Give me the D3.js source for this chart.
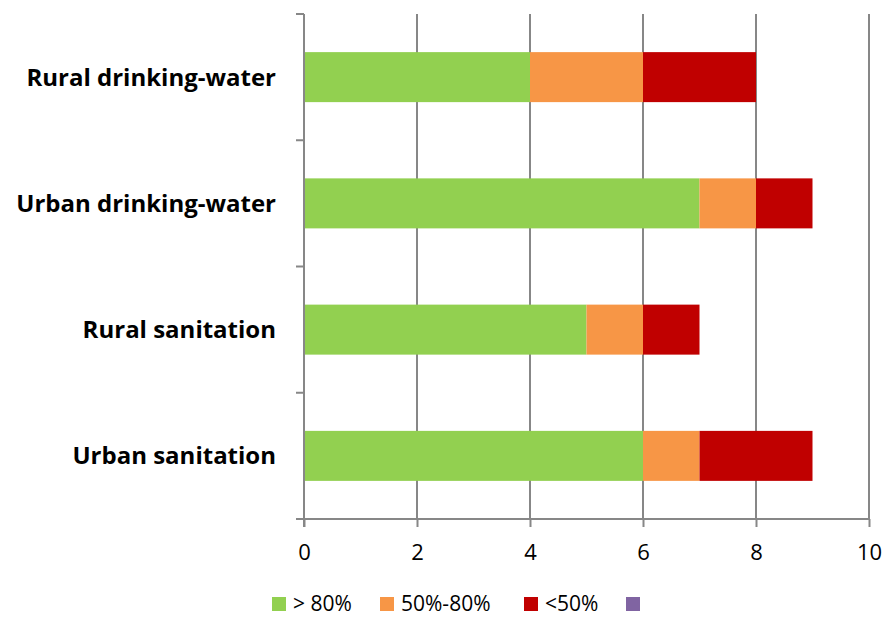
<!DOCTYPE html>
<html>
<head>
<meta charset="utf-8">
<script src="https://cdn.jsdelivr.net/npm/d3@7"></script>
<style>
  html, body { margin: 0; padding: 0; background: #fff; }
  svg { display: block; }
</style>
</head>
<body>
<svg id="chart" width="885" height="617"></svg>
<script>
// Categories from top to bottom
const categories = ["Rural drinking-water", "Urban drinking-water", "Rural sanitation", "Urban sanitation"];
// Stacked series (number of countries per coverage band)
const seriesNames = ["> 80%", "50%-80%", "<50%", ""];
const above80 = [4, 7, 5, 6];
const from50to80 = [2, 1, 1, 1];
const below50 = [2, 1, 1, 2];
const unnamed = [0, 0, 0, 0];
const xTicks = [0, 2, 4, 6, 8, 10];
const colors = ["#92d050", "#f79646", "#c00000", "#8064a2"];

const rows = categories.map((c, i) => ({
  category: c,
  s0: above80[i], s1: from50to80[i], s2: below50[i], s3: unnamed[i]
}));
const keys = ["s0", "s1", "s2", "s3"];
const stacked = d3.stack().keys(keys)(rows);

const svg = d3.select("#chart");
const margin = { left: 304, right: 16, top: 14, bottom: 98 };
const W = 885, H = 617;
const x = d3.scaleLinear().domain([0, 10]).range([margin.left, W - margin.right]);
const y = d3.scaleBand().domain(categories).range([margin.top, H - margin.bottom]).paddingInner(0).paddingOuter(0);
const barH = 50;
const axisColor = "#878787";
const font = "'Open Sans', sans-serif";

// Vertical gridlines
svg.append("g").selectAll("line").data(xTicks.filter(t => t > 0)).join("line")
  .attr("x1", d => x(d)).attr("x2", d => x(d))
  .attr("y1", margin.top).attr("y2", H - margin.bottom)
  .attr("stroke", axisColor).attr("stroke-width", 2);

// Bars
svg.append("g").selectAll("g").data(stacked).join("g")
  .attr("fill", (d, i) => colors[i])
  .selectAll("rect").data(d => d).join("rect")
  .attr("x", d => x(d[0]))
  .attr("width", d => x(d[1]) - x(d[0]))
  .attr("y", d => y(d.data.category) + (y.bandwidth() - barH) / 2)
  .attr("height", barH);

// X axis
const xAxis = svg.append("g")
  .attr("transform", `translate(0,${H - margin.bottom})`)
  .call(d3.axisBottom(x).tickValues(xTicks).tickSize(8).tickPadding(17).tickFormat(d3.format("d")));
xAxis.select(".domain").attr("stroke", axisColor).attr("stroke-width", 2)
  .attr("d", `M${x(0) - 8},0H${x(10)}`);
xAxis.selectAll(".tick line").attr("stroke", axisColor).attr("stroke-width", 2);
xAxis.selectAll(".tick text").attr("font-family", font).attr("font-size", 22).attr("fill", "#000");

// Y axis: ticks at category boundaries
const yBoundaries = categories.map(c => y(c)).concat([H - margin.bottom]);
const yAxis = svg.append("g");
yAxis.append("line")
  .attr("x1", x(0)).attr("x2", x(0))
  .attr("y1", margin.top).attr("y2", H - margin.bottom + 8)
  .attr("stroke", axisColor).attr("stroke-width", 2);
yAxis.selectAll("line.tk").data(yBoundaries).join("line").attr("class", "tk")
  .attr("x1", x(0) - 8).attr("x2", x(0))
  .attr("y1", d => d).attr("y2", d => d)
  .attr("stroke", axisColor).attr("stroke-width", 2);

// Category labels
svg.append("g").selectAll("text").data(categories).join("text")
  .attr("x", 276)
  .attr("y", d => y(d) + y.bandwidth() / 2)
  .attr("dy", "0.35em")
  .attr("text-anchor", "end")
  .attr("font-family", font).attr("font-weight", "bold").attr("font-size", 24)
  .attr("fill", "#000")
  .text(d => d);

// Legend
const legendItems = [
  { name: seriesNames[0], color: colors[0], x: 272 },
  { name: seriesNames[1], color: colors[1], x: 380 },
  { name: seriesNames[2], color: colors[2], x: 524 },
  { name: seriesNames[3], color: colors[3], x: 626 }
];
const lg = svg.append("g").selectAll("g").data(legendItems).join("g")
  .attr("transform", d => `translate(${d.x},597)`);
lg.append("rect").attr("width", 14).attr("height", 14).attr("fill", d => d.color);
lg.append("text").attr("x", 21).attr("y", 14)
  .attr("font-family", font).attr("font-size", 21).attr("fill", "#000")
  .text(d => d.name);
</script>
</body>
</html>
